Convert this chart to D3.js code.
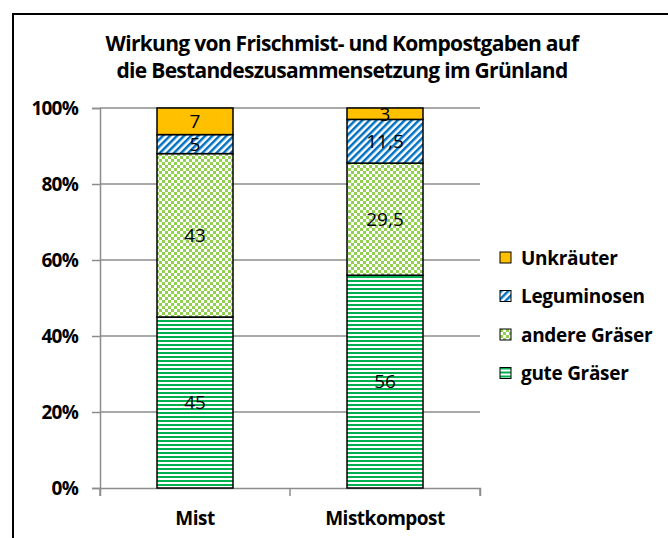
<!DOCTYPE html>
<html>
<head>
<meta charset="utf-8">
<script src="https://cdn.jsdelivr.net/npm/d3@7"></script>
<style>
  body { margin: 0; background: #fff; }
  text { font-family: "Open Sans", sans-serif; }
</style>
</head>
<body>
<svg id="chart" width="668" height="538"></svg>
<script>
const categories = ["Mist", "Mistkompost"];
const series = ["gute Gräser", "andere Gräser", "Leguminosen", "Unkräuter"];
const guteGraeser = [45, 56];
const andereGraeser = [43, 29.5];
const leguminosen = [5, 11.5];
const unkraeuter = [7, 3];
const valueLabels = [["45", "56"], ["43", "29,5"], ["5", "11,5"], ["7", "3"]];
const yTicks = [0, 0.2, 0.4, 0.6, 0.8, 1];

const svg = d3.select("#chart");
const LEFT = 100, RIGHT = 480, TOP = 108, BOTTOM = 488;

// frame
svg.append("rect")
   .attr("x", 13).attr("y", 14)
   .attr("width", 700).attr("height", 600)
   .attr("fill", "none").attr("stroke", "#000").attr("stroke-width", 2);

// patterns
const defs = svg.append("defs");
const pLines = defs.append("pattern").attr("id", "p-gute")
   .attr("patternUnits", "userSpaceOnUse").attr("width", 4).attr("height", 4);
pLines.append("rect").attr("width", 4).attr("height", 4).attr("fill", "#fff");
pLines.append("rect").attr("width", 4).attr("height", 2).attr("fill", "#00B050");

const pCheck = defs.append("pattern").attr("id", "p-andere")
   .attr("patternUnits", "userSpaceOnUse").attr("width", 6).attr("height", 6);
pCheck.append("rect").attr("width", 6).attr("height", 6).attr("fill", "#fff");
pCheck.append("rect").attr("width", 3).attr("height", 3).attr("fill", "#92D050");
pCheck.append("rect").attr("x", 3).attr("y", 3).attr("width", 3).attr("height", 3).attr("fill", "#92D050");

const pDiag = defs.append("pattern").attr("id", "p-legu")
   .attr("patternUnits", "userSpaceOnUse").attr("width", 5).attr("height", 5)
   .attr("patternTransform", "rotate(45)");
pDiag.append("rect").attr("width", 5).attr("height", 5).attr("fill", "#fff");
pDiag.append("rect").attr("width", 2.5).attr("height", 5).attr("fill", "#0070C0");

const fills = ["url(#p-gute)", "url(#p-andere)", "url(#p-legu)", "#FFC000"];

// title
const titleLines = ["Wirkung von Frischmist- und Kompostgaben auf",
                    "die Bestandeszusammensetzung im Grünland"];
svg.append("g").selectAll("text").data(titleLines).join("text")
   .attr("x", 342).attr("y", (d, i) => 51 + i * 27)
   .attr("text-anchor", "middle").attr("font-weight", "bold").attr("font-size", 21)
   .attr("letter-spacing", -0.7)
   .text(d => d);

const x = d3.scaleBand().domain(categories).range([LEFT, RIGHT]);
const y = d3.scaleLinear().domain([0, 1]).range([BOTTOM, TOP]);

// gridlines
svg.append("g").selectAll("line").data(yTicks.slice(1)).join("line")
   .attr("x1", LEFT).attr("x2", RIGHT)
   .attr("y1", d => y(d)).attr("y2", d => y(d))
   .attr("stroke", "#8c8c8c").attr("stroke-width", 1.5);

// y axis
const yAxis = d3.axisLeft(y).tickValues(yTicks).tickSize(8).tickPadding(14)
   .tickFormat(d => Math.round(d * 100) + "%");
const gy = svg.append("g").attr("transform", `translate(${LEFT},0)`).call(yAxis);
gy.selectAll("line, path").attr("stroke", "#8c8c8c").attr("stroke-width", 1.5);
gy.selectAll("text").attr("font-size", 19).attr("fill", "#000")
  .attr("font-family", "'Open Sans', sans-serif").attr("font-weight", "bold")
  .attr("letter-spacing", -0.8);

// x axis
const xAxis = d3.axisBottom(x).tickSize(8).tickSizeOuter(8).tickPadding(16);
const gx = svg.append("g").attr("transform", `translate(0,${BOTTOM})`).call(xAxis);
gx.selectAll(".tick line").attr("transform", `translate(${-x.bandwidth() / 2},0)`);
gx.append("line").attr("x1", RIGHT).attr("x2", RIGHT).attr("y1", 0).attr("y2", 8);
gx.selectAll("line, path").attr("stroke", "#8c8c8c").attr("stroke-width", 1.5);
gx.selectAll("text").attr("font-size", 19).attr("fill", "#000")
  .attr("font-family", "'Open Sans', sans-serif").attr("font-weight", "bold")
  .attr("letter-spacing", -0.5);

// stacked bars
const table = categories.map((c, i) => ({
  cat: c,
  "gute Gräser": guteGraeser[i],
  "andere Gräser": andereGraeser[i],
  "Leguminosen": leguminosen[i],
  "Unkräuter": unkraeuter[i]
}));
const stack = d3.stack().keys(series).value((d, k) => d[k] / 100)(table);
const BAR_W = x.bandwidth() * 0.4;

stack.forEach((layer, si) => {
  const g = svg.append("g");
  g.selectAll("rect").data(layer).join("rect")
   .attr("x", d => x(d.data.cat) + (x.bandwidth() - BAR_W) / 2)
   .attr("y", d => y(d[1]))
   .attr("width", BAR_W)
   .attr("height", d => y(d[0]) - y(d[1]))
   .attr("fill", fills[si])
   .attr("stroke", "#000").attr("stroke-width", 1.5);
  g.selectAll("text").data(layer).join("text")
   .attr("x", d => x(d.data.cat) + x.bandwidth() / 2)
   .attr("y", d => (y(d[0]) + y(d[1])) / 2)
   .attr("dy", "0.36em")
   .attr("text-anchor", "middle").attr("font-size", 19)
   .text((d, i) => valueLabels[si][i]);
});

// legend
const legendOrder = series.slice().reverse();
const legend = svg.append("g").selectAll("g").data(legendOrder).join("g")
   .attr("transform", (d, i) => `translate(500,${252 + i * 38.5})`);
legend.append("rect").attr("width", 11).attr("height", 11)
   .attr("fill", d => fills[series.indexOf(d)])
   .attr("stroke", "#000").attr("stroke-width", 1);
legend.append("text").attr("x", 21).attr("y", 6).attr("dy", "0.36em")
   .attr("font-size", 19).attr("font-weight", "bold").attr("letter-spacing", -0.3)
   .text(d => d);
</script>
</body>
</html>
